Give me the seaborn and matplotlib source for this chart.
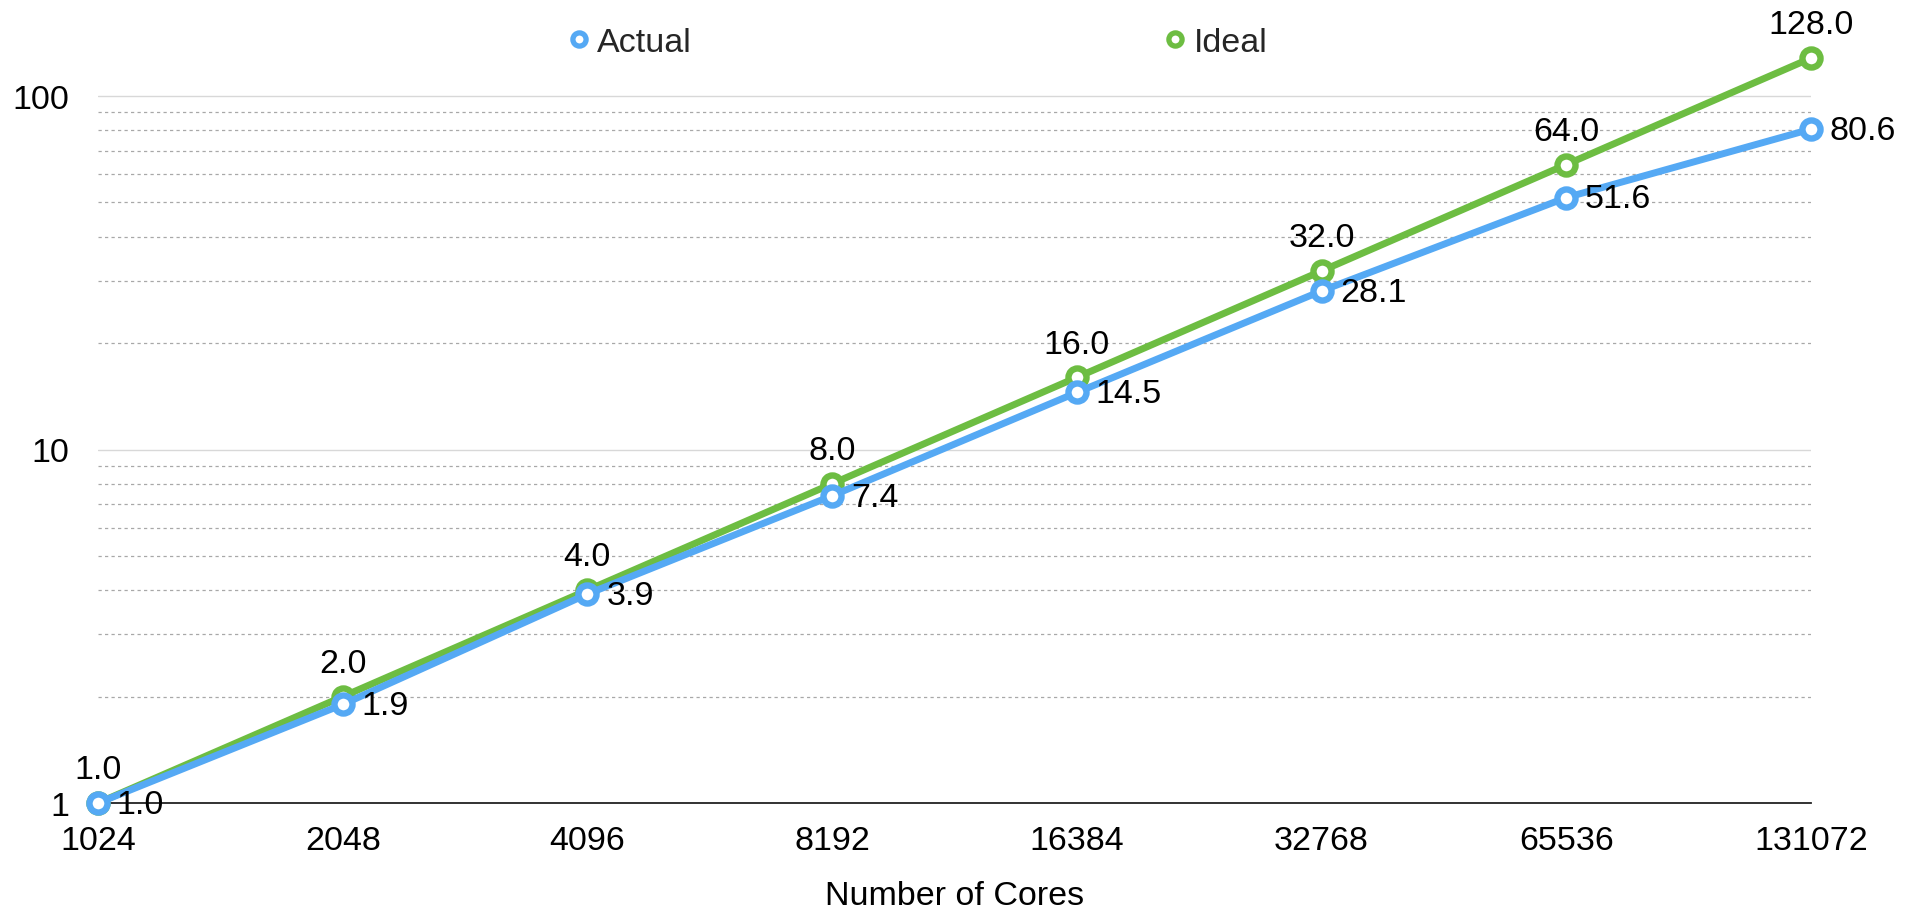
import matplotlib
matplotlib.use("Agg")
import matplotlib.pyplot as plt
from matplotlib.lines import Line2D
from matplotlib.ticker import FixedLocator, FuncFormatter, LogLocator, NullFormatter
import numpy as np
import pandas as pd
import seaborn as sns

# Strong-scaling results: speedup relative to the 1024-core run
cores = [1024, 2048, 4096, 8192, 16384, 32768, 65536, 131072]
actual = [1.0, 1.9, 3.9, 7.4, 14.5, 28.1, 51.6, 80.6]
ideal = [1.0, 2.0, 4.0, 8.0, 16.0, 32.0, 64.0, 128.0]
series_names = ["Actual", "Ideal"]
series_colors = {"Actual": "#55A9F4", "Ideal": "#6DBD42"}
x_label = "Number of Cores"
y_ticks = [1, 10, 100]

df = pd.concat([
    pd.DataFrame({"cores": cores, "speedup": ideal, "series": "Ideal"}),
    pd.DataFrame({"cores": cores, "speedup": actual, "series": "Actual"}),
])

sns.set_theme(style="white")
plt.rcParams["font.family"] = ["Liberation Sans", "DejaVu Sans"]

W, H, DPI = 1917, 920, 100
fig = plt.figure(figsize=(W / DPI, H / DPI), dpi=DPI)

y_top = 10 ** 2.2
decade_px = 353.5
ax_left_px, ax_right_px, ax_bottom_px = 98, 1811, 804
ax_h_px = np.log10(y_top) * decade_px
ax = fig.add_axes([ax_left_px / W, 1 - ax_bottom_px / H,
                   (ax_right_px - ax_left_px) / W, ax_h_px / H])

FS = 24.5
for name in ["Ideal", "Actual"]:
    sub = df[df["series"] == name]
    sns.lineplot(data=sub, x="cores", y="speedup", ax=ax, color=series_colors[name],
                 linewidth=5.0, marker="o", markersize=13, markeredgewidth=4.6,
                 markerfacecolor="white", markeredgecolor=series_colors[name],
                 clip_on=False, zorder=4 if name == "Actual" else 3, legend=False)

# make sure the line styling is applied exactly
for line in ax.lines:
    line.set_linewidth(5.0)
    line.set_markersize(13)
    line.set_markeredgewidth(4.6)

ax.set_xscale("log", base=2)
ax.set_yscale("log")
ax.set_xlim(cores[0], cores[-1])
ax.set_ylim(1, y_top)

ax.xaxis.set_major_locator(FixedLocator(cores))
ax.xaxis.set_major_formatter(FuncFormatter(lambda v, p: f"{int(round(v))}"))
ax.xaxis.set_minor_locator(FixedLocator([]))
ax.yaxis.set_major_locator(FixedLocator(y_ticks))
ax.yaxis.set_major_formatter(FuncFormatter(lambda v, p: f"{int(round(v))}"))
ax.yaxis.set_minor_locator(LogLocator(base=10, subs=np.arange(2, 10)))
ax.yaxis.set_minor_formatter(NullFormatter())

ax.tick_params(axis="x", which="both", length=0, pad=16, labelsize=FS, labelcolor="black")
ax.tick_params(axis="y", which="both", length=0, pad=21, labelsize=FS, labelcolor="black")

ax.grid(False)
ax.yaxis.grid(True, which="major", color="#d8d8d8", linewidth=1.0, linestyle="-")
ax.yaxis.grid(True, which="minor", color="#a8a8a8", linewidth=0.9, linestyle=(0, (2.6, 2.6)))
ax.set_axisbelow(True)

for side in ["left", "right", "top"]:
    ax.spines[side].set_visible(False)
ax.spines["bottom"].set_color("#222222")
ax.spines["bottom"].set_linewidth(1.3)
ax.spines["bottom"].set_zorder(2)

ax.set_xlabel(x_label, fontsize=FS, color="black", labelpad=17)
ax.set_ylabel("")

# value labels: ideal above each point, actual to the right
for c, v in zip(cores, ideal):
    ax.annotate(f"{v:.1f}", (c, v), xytext=(0, 24), textcoords="offset points",
                ha="center", va="center", fontsize=FS, color="black",
                annotation_clip=False, zorder=6)
for c, v in zip(cores, actual):
    ax.annotate(f"{v:.1f}", (c, v), xytext=(13.5, -1), textcoords="offset points",
                ha="left", va="center", fontsize=FS, color="black",
                annotation_clip=False, zorder=6)

handles = [Line2D([0], [0], color=series_colors[n], linestyle="none", marker="o",
                  markersize=9.5, markeredgewidth=3.8, markerfacecolor="white",
                  markeredgecolor=series_colors[n]) for n in series_names]
fig.legend(handles, series_names, loc="center", bbox_to_anchor=(918 / W, 1 - 43 / H),
           ncol=2, frameon=False, fontsize=FS, handlelength=0.6, handletextpad=0.25,
           columnspacing=13.9, borderpad=0)

fig.savefig("out.png", dpi=DPI, facecolor="white")
